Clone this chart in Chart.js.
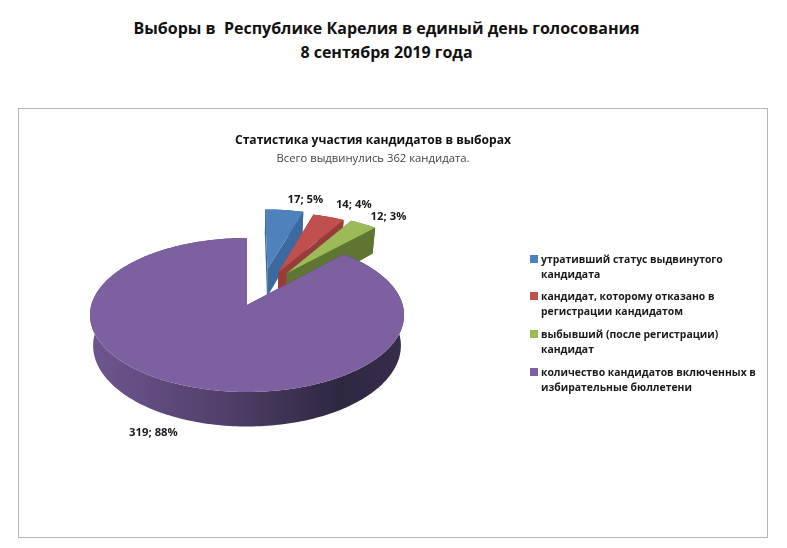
<!DOCTYPE html>
<html lang="ru">
<head>
<meta charset="utf-8">
<title>Выборы в Республике Карелия</title>
<script src="https://cdn.jsdelivr.net/npm/chart.js@4/dist/chart.umd.min.js"></script>
<style>
    body { margin: 0; background: #fff; font-family: "Open Sans", sans-serif; color: #111; }
    #page { position: relative; width: 787px; height: 548px; overflow: hidden; }
    #heading { position: absolute; left: 0; top: 16px; width: 773px; text-align: center; font-size: 16px; line-height: 24px; font-weight: 700; white-space: pre; }
    #frame { position: absolute; left: 18px; top: 108px; width: 748px; height: 428px; border: 1px solid #b5b5b5; }
    canvas { position: absolute; left: 0; top: 0; }
    #legend { position: absolute; left: 0; top: 0; }
    .item { position: absolute; left: 541px; font-size: 10.4px; font-weight: 700; line-height: 15px; white-space: pre; color: #1a1a1a; }
    .item i { position: absolute; left: -11px; top: 3px; width: 8px; height: 8px; }
</style>
</head>
<body>
<div id="page">
    <div id="heading">Выборы в  Республике Карелия в единый день голосования
8 сентября 2019 года</div>
    <div id="frame"></div>
    <canvas id="chart" width="787" height="548"></canvas>
    <div id="legend"></div>
</div>
<script>
// データ
const categories = [
    'утративший статус выдвинутого\nкандидата',
    'кандидат, которому отказано в\nрегистрации кандидатом',
    'выбывший (после регистрации)\nкандидат',
    'количество кандидатов включенных в\nизбирательные бюллетени'
];
const candidates = [17, 14, 12, 319];

// 色
const topColors = ['#4f81bd', '#c0504d', '#9bbb59', '#7d60a0'];
const wallColors = ['#3c6a9e', '#983c39', '#5f7632', '#5a4576'];
const legendTops = [252, 289, 327, 365];

// 3D pie: the arcs' angles come from Chart.js, this only projects them
const view = {
    apexX: 247, apexY: 305,
    scaleX: 155.7, scaleY: 75.7,
    perspective: 0.13,
    depth: 30,
    bottomShrink: 0.98
};
const pulls = [[0.14, 0.51], [0.214, 0.457], [0.27, 0.443], [0, 0]];
const labelShifts = [[21, -10], [25, -12], [25, -7], [-29, 48]];

function project(u, v, lowered) {
    const w = 1 + view.perspective * v;
    let x = view.scaleX * u / w;
    let y = view.apexY - view.scaleY * v / w;
    if (lowered) {
        x *= view.bottomShrink;
        y += view.depth / w;
    }
    return [view.apexX + x, y];
}

function rimPoints(arc, pull, lowered) {
    const pts = [];
    const steps = Math.max(4, Math.ceil((arc.endAngle - arc.startAngle) / 0.02));
    for (let i = 0; i <= steps; i++) {
        const a = arc.startAngle + (arc.endAngle - arc.startAngle) * i / steps;
        pts.push(project(pull[0] + Math.cos(a), pull[1] - Math.sin(a), lowered));
    }
    return pts;
}

function fillPolygon(ctx, pts, fill) {
    ctx.beginPath();
    pts.forEach((p, i) => i ? ctx.lineTo(p[0], p[1]) : ctx.moveTo(p[0], p[1]));
    ctx.closePath();
    ctx.fillStyle = fill;
    ctx.fill();
}

const pie3d = {
    id: 'pie3d',
    beforeDatasetDraw(chart) {
        const ctx = chart.ctx;
        const arcs = chart.getDatasetMeta(0).data;
        ctx.save();
        arcs.forEach((arc, i) => {
            const pull = pulls[i];
            const apex = project(pull[0], pull[1], false);
            const apexLow = project(pull[0], pull[1], true);
            const rim = rimPoints(arc, pull, false);
            const rimLow = rimPoints(arc, pull, true);

            let wall = wallColors[i];
            if (i === 3) {
                // purple side gets lighter to the left
                wall = ctx.createLinearGradient(90, 0, 403, 0);
                wall.addColorStop(0, '#6f5590');
                wall.addColorStop(0.45, '#4f3f68');
                wall.addColorStop(0.8, '#2f2740');
                wall.addColorStop(1, '#372d4b');
            }
            fillPolygon(ctx, rim.concat(rimLow.slice().reverse()), wall);
            fillPolygon(ctx, [apex, rim[0], rimLow[0], apexLow], wall);
            const last = rim.length - 1;
            fillPolygon(ctx, [apex, rim[last], rimLow[last], apexLow], wall);
            fillPolygon(ctx, [apex].concat(rim), topColors[i]);
        });
        ctx.restore();
        return false;
    },
    afterDatasetsDraw(chart) {
        const ctx = chart.ctx;
        const arcs = chart.getDatasetMeta(0).data;
        const total = candidates.reduce((a, b) => a + b, 0);
        ctx.save();
        ctx.font = '700 11.3px "Open Sans", sans-serif';
        ctx.fillStyle = '#1a1a1a';
        ctx.textAlign = 'center';
        ctx.textBaseline = 'middle';
        arcs.forEach((arc, i) => {
            const a = (arc.startAngle + arc.endAngle) / 2;
            const p = project(pulls[i][0] + Math.cos(a), pulls[i][1] - Math.sin(a), false);
            const text = `${candidates[i]}; ${Math.round(candidates[i] / total * 100)}%`;
            ctx.fillText(text, p[0] + labelShifts[i][0], p[1] + labelShifts[i][1]);
        });
        ctx.restore();
    }
};

new Chart(document.getElementById('chart'), {
    type: 'pie',
    data: {
        labels: categories,
        datasets: [{ data: candidates, backgroundColor: topColors, borderWidth: 0 }]
    },
    options: {
        responsive: false,
        animation: false,
        layout: { padding: { top: 133, right: 41 } },
        plugins: {
            legend: { display: false },
            tooltip: { enabled: false },
            title: {
                display: true,
                text: 'Статистика участия кандидатов в выборах',
                color: '#111',
                font: { family: '"Open Sans", sans-serif', size: 12.1, weight: '700' },
                padding: { top: 0, bottom: 4 }
            },
            subtitle: {
                display: true,
                text: 'Всего выдвинулись 362 кандидата.',
                color: '#444',
                font: { family: '"Open Sans", sans-serif', size: 11.3, weight: '400' }
            }
        }
    },
    plugins: [pie3d]
});

// 凡例
const legend = document.getElementById('legend');
categories.forEach((label, i) => {
    const item = document.createElement('div');
    item.className = 'item';
    item.style.top = legendTops[i] + 'px';
    item.textContent = label;
    const box = document.createElement('i');
    box.style.background = topColors[i];
    item.appendChild(box);
    legend.appendChild(item);
});
</script>
</body>
</html>
